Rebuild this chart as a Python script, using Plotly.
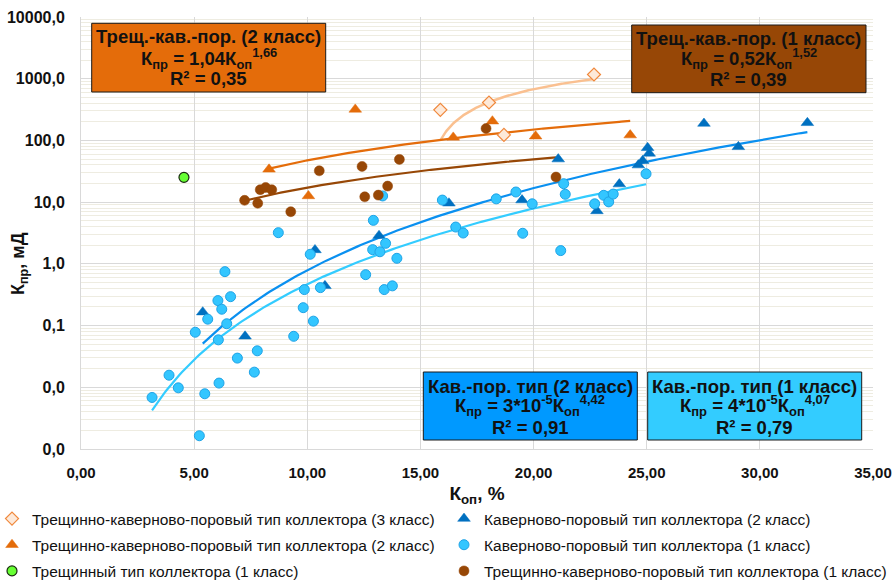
import numpy as np
import plotly.graph_objects as go

# ---------------- data ----------------
TKP3_X = [15.88, 18.03, 18.69, 22.67]
TKP3_Y = [313, 412, 123, 1170]

TKP2_X = [8.31, 10.05, 12.12, 16.45, 18.18, 20.09, 24.27]
TKP2_Y = [34, 12.6, 318, 112, 205, 117, 122]

TR1_X = [4.55]
TR1_Y = [25.2]

KP2_X = [5.38, 7.25, 10.34, 10.78, 13.17, 16.26, 19.49, 21.09, 22.80, 23.79,
         24.63, 24.82, 25.04, 25.11, 27.53, 29.05, 32.10]
KP2_Y = [0.165, 0.067, 1.68, 0.44, 2.86, 9.6, 10.8, 49.8, 7.2, 19.6,
         39.8, 46.8, 75.9, 61.6, 188, 78.7, 193]

KP1_X = [3.14, 3.89, 4.30, 5.05, 5.23, 5.47, 5.60, 6.05, 6.22, 6.07, 6.10, 6.36,
         6.44, 6.61, 6.91, 7.66, 7.79, 8.72, 9.40, 9.82, 9.87, 10.13, 10.27, 10.58,
         12.58, 12.89, 12.92, 13.21, 13.33, 13.40, 13.46, 13.76, 13.96, 15.97, 16.56,
         16.89, 18.35, 19.22, 19.52, 19.94, 21.20, 21.33, 21.40, 22.70, 23.10, 23.32,
         23.52, 24.97]
KP1_Y = [0.00684, 0.0157, 0.0098, 0.078, 0.00164, 0.00785, 0.127, 0.254, 0.184,
         0.0587, 0.0117, 0.748, 0.107, 0.294, 0.0297, 0.0176, 0.039, 3.2, 0.067,
         0.195, 0.383, 1.43, 0.118, 0.412, 0.668, 1.70, 5.07, 1.57, 12.6, 0.383,
         2.15, 0.44, 1.23, 10.8, 3.95, 3.16, 11.3, 14.6, 3.13, 9.4, 1.64, 19.9,
         13.4, 9.4, 12.9, 10.1, 13.5, 28.8]

TKP1_X = [7.23, 7.81, 7.92, 8.16, 8.43, 9.27, 10.53, 12.42, 12.54, 13.14, 13.55,
          14.07, 17.90, 20.99]
TKP1_Y = [10.7, 9.6, 15.9, 17.3, 15.9, 7.0, 32.2, 37.9, 12.2, 13.0, 18.2,
          49.3, 156, 25.5]

# power trend coefficients (a, b) for K = a * x^b, as printed in the boxes
FIT_TKP2 = [1.04, 1.66]
FIT_TKP1 = [0.52, 1.52]
FIT_KP2 = [3e-5, 4.42]
FIT_KP1 = [4e-5, 4.07]

NAMES = [
    "Трещинно-каверново-поровый тип коллектора (3 класс)",
    "Трещинно-каверново-поровый тип коллектора (2 класс)",
    "Трещинный тип коллектора (1 класс)",
    "Каверново-поровый тип коллектора (2 класс)",
    "Каверново-поровый тип коллектора (1 класс)",
    "Трещинно-каверново-поровый тип коллектора (1 класс)",
]

BOX_LINES = [
    ["Трещ.-кав.-пор. (2 класс)", "К<sub>пр</sub> = 1,04К<sub>оп</sub><sup>1,66</sup>", "R² = 0,35"],
    ["Трещ.-кав.-пор. (1 класс)", "К<sub>пр</sub> = 0,52К<sub>оп</sub><sup>1,52</sup>", "R² = 0,39"],
    ["Кав.-пор. тип (2 класс)", "К<sub>пр</sub> = 3*10<sup>-5</sup>К<sub>оп</sub><sup>4,42</sup>", "R² = 0,91"],
    ["Кав.-пор. тип (1 класс)", "К<sub>пр</sub> = 4*10<sup>-5</sup>К<sub>оп</sub><sup>4,07</sup>", "R² = 0,79"],
]

X_TITLE = "К<sub>оп</sub>, %"
Y_TITLE = "К<sub>пр</sub>, мД"

# ---------------- colours ----------------
ORANGE = "#E46C0A"
PEACH = "#FAC090"
BROWN = "#974706"
DBLUE = "#0070C0"
BLUE_LINE = "#0A90F0"
LBLUE = "#33C6FF"
LBLUE_LINE = "#33CCFF"
GREEN = "#66FF33"

FONT = "Liberation Sans, Arial, sans-serif"
TXT = "#111111"

fig = go.Figure()


def power_curve(xs, fit):
    xx = np.linspace(min(xs), max(xs), 200)
    return xx, fit[0] * xx ** fit[1]


# log trend for class 3 fitted from its points
c3 = np.polyfit(np.log(TKP3_X), TKP3_Y, 1)
xx3 = np.linspace(min(TKP3_X), max(TKP3_X), 200)
fig.add_trace(go.Scatter(x=xx3, y=c3[0] * np.log(xx3) + c3[1], mode="lines",
                         line=dict(color=PEACH, width=2.5), showlegend=False, hoverinfo="skip"))
for xs, fit, col in [(TKP2_X, FIT_TKP2, ORANGE), (TKP1_X, FIT_TKP1, BROWN),
                     (KP2_X, FIT_KP2, BLUE_LINE), (KP1_X, FIT_KP1, LBLUE_LINE)]:
    xx, yy = power_curve(xs, fit)
    fig.add_trace(go.Scatter(x=xx, y=yy, mode="lines", line=dict(color=col, width=2.2),
                             showlegend=False, hoverinfo="skip"))

# markers
specs = [
    (TKP3_X, TKP3_Y, NAMES[0], dict(symbol="diamond", size=10, color="#FDE9D9",
                                    line=dict(color="#F0883C", width=1.2)), "legend"),
    (TKP2_X, TKP2_Y, NAMES[1], dict(symbol="triangle-up", size=11, color=ORANGE,
                                    line=dict(color=ORANGE, width=0.5)), "legend"),
    (TR1_X, TR1_Y, NAMES[2], dict(symbol="circle", size=10, color=GREEN,
                                  line=dict(color="#1A2A10", width=1.2)), "legend"),
    (KP2_X, KP2_Y, NAMES[3], dict(symbol="triangle-up", size=11, color=DBLUE,
                                  line=dict(color=DBLUE, width=0.5)), "legend2"),
    (KP1_X, KP1_Y, NAMES[4], dict(symbol="circle", size=10, color=LBLUE,
                                  line=dict(color="#1FA3E6", width=1)), "legend2"),
    (TKP1_X, TKP1_Y, NAMES[5], dict(symbol="circle", size=10, color=BROWN,
                                    line=dict(color=BROWN, width=0.5)), "legend2"),
]
for i, (xs, ys, name, mk, lg) in enumerate(specs):
    fig.add_trace(go.Scatter(x=xs, y=ys, mode="markers", name=name, marker=mk,
                             legend=lg, legendgroup="g%d" % i))

# ---------------- layout ----------------
L, R, T, B = 81, 22, 17, 134
W, H = 895, 583
PW, PH = W - L - R, H - T - B


def pxx(x):
    return (x - L) / PW


def pxy(y):
    return (H - B - y) / PH


# boxes: (x0, y0, x1, y1, fill, [line centre y's])
boxes = [
    (91.7, 23.3, 325.7, 92.0, ORANGE, [36.3, 58.0, 79.0]),
    (631.7, 25.0, 866.0, 92.7, BROWN, [38.3, 59.0, 79.5]),
    (423.3, 372.0, 637.3, 440.0, "#0099FF", [386.7, 405.5, 427.5]),
    (647.7, 372.0, 861.7, 440.0, "#33CCFF", [386.7, 405.5, 427.5]),
]
for (x0, y0, x1, y1, col, ys), lines in zip(boxes, BOX_LINES):
    fig.add_shape(type="rect", xref="paper", yref="paper",
                  x0=pxx(x0), x1=pxx(x1), y0=pxy(y1), y1=pxy(y0),
                  fillcolor=col, line=dict(color="#1a1a1a", width=1), layer="above")
    for ly, txt in zip(ys, lines):
        fig.add_annotation(xref="paper", yref="paper", x=pxx((x0 + x1) / 2), y=pxy(ly),
                           text=txt, showarrow=False, xanchor="center", yanchor="middle",
                           font=dict(family=FONT, size=18.5, color=TXT, weight="bold"))

# y-axis title as rotated text
fig.add_annotation(xref="paper", yref="paper", x=pxx(19), y=pxy(264), text=Y_TITLE,
                   showarrow=False, textangle=-90, xanchor="center", yanchor="middle",
                   font=dict(family=FONT, size=18, color=TXT, weight="bold"))

grid = "#D9D9D9"
leg_font = dict(family=FONT, size=15.5, color=TXT)
fig.update_layout(
    width=W, height=H,
    margin=dict(l=L, r=R, t=T, b=B, autoexpand=False),
    paper_bgcolor="white", plot_bgcolor="white",
    separators=", ",
    font=dict(family=FONT, color=TXT),
    showlegend=True,
    legend=dict(x=pxx(-8), y=pxy(502), xanchor="left", yanchor="top", font=leg_font,
                tracegroupgap=3, bgcolor="rgba(0,0,0,0)"),
    legend2=dict(x=pxx(444), y=pxy(502), xanchor="left", yanchor="top", font=leg_font,
                 tracegroupgap=3, bgcolor="rgba(0,0,0,0)"),
    xaxis=dict(range=[0, 35], dtick=5, tick0=0, tickformat=".2f",
               showgrid=True, gridcolor=grid, gridwidth=1,
               showline=True, linecolor=grid, linewidth=1, zeroline=False,
               ticks="", ticklabelstandoff=10,
               tickfont=dict(family=FONT, size=15, weight="bold", color=TXT),
               title=dict(text=X_TITLE, standoff=6,
                          font=dict(family=FONT, size=19, weight="bold", color=TXT))),
    yaxis=dict(type="log", range=[-3, 4], dtick=1, tickformat=".1f",
               showgrid=True, gridcolor=grid, gridwidth=1,
               minor=dict(showgrid=True, gridcolor="#EEECE1", gridwidth=1, dtick="D1", ticks=""),
               showline=True, linecolor=grid, linewidth=1, zeroline=False,
               ticks="", ticklabelstandoff=12,
               tickfont=dict(family=FONT, size=16, weight="bold", color=TXT)),
)

fig.write_html("out.html", config={"displayModeBar": False},
               post_script="document.body.style.margin='0px';document.body.style.overflow='hidden';")
